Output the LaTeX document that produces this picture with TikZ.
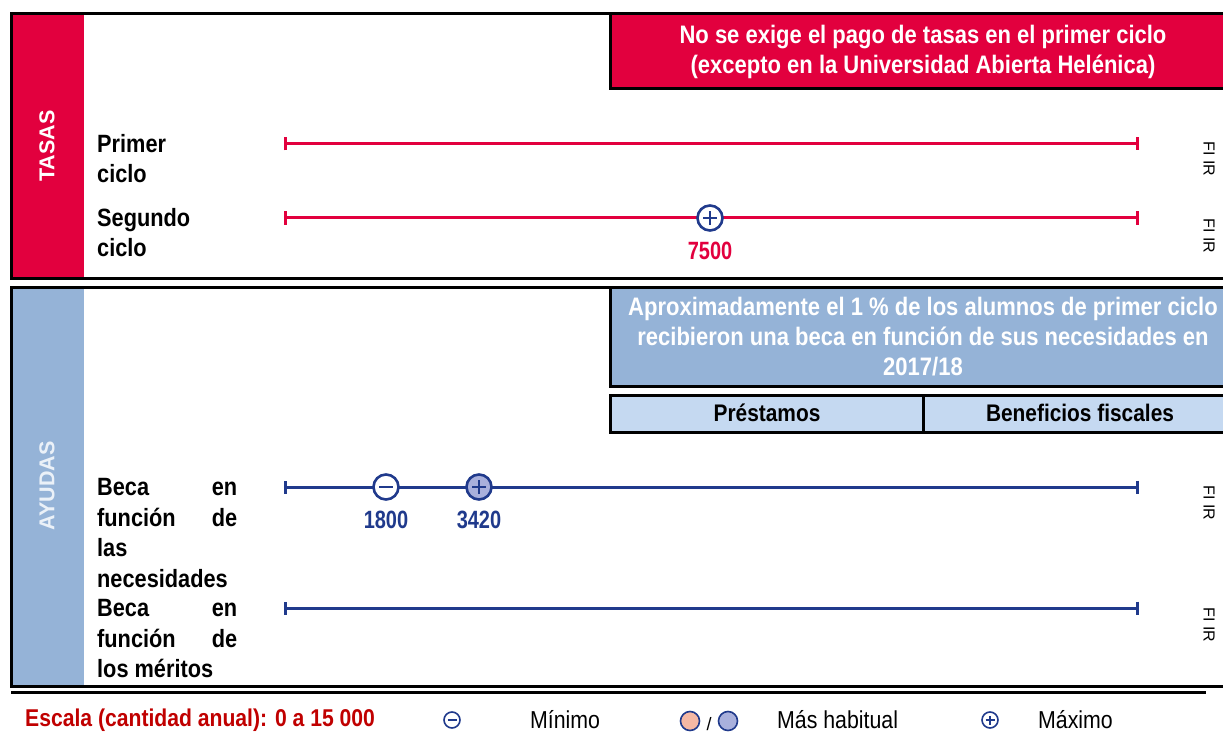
\documentclass[tikz,border=0pt]{standalone}
\usepackage{fontspec}
\setmainfont{Liberation Sans}
\newfontfamily\nar[FakeStretch=0.87]{Liberation Sans}
\newfontfamily\numf[FakeStretch=0.8]{Liberation Sans}
\usetikzlibrary{arrows.meta}
\definecolor{redc}{RGB}{226,0,62}
\definecolor{navy}{RGB}{32,58,140}
\definecolor{bandblue}{RGB}{149,179,215}
\definecolor{rowblue}{RGB}{197,217,241}
\definecolor{lav}{RGB}{169,176,220}
\definecolor{orng}{RGB}{245,184,164}
\definecolor{darkred}{RGB}{192,0,0}
\definecolor{paleblue}{RGB}{235,241,248}
\tikzset{
  box/.style={draw=black, line width=3pt},
  scaleline/.style={line width=3pt, {Bar[width=13pt,line width=3pt]}-{Bar[width=13pt,line width=3pt]}},
  rowlbl/.style={anchor=north west, inner sep=0pt, align=left, font=\nar\bfseries\fontsize{25}{30.6}\selectfont},
  banner/.style={align=center, inner sep=0pt, text=white, font=\nar\bfseries\fontsize{25.3}{30}\selectfont},
  sidelbl/.style={rotate=90, inner sep=0pt, font=\bfseries\fontsize{21.5}{22}\selectfont},
  fiir/.style={rotate=-90, inner sep=0pt, font=\fontsize{16}{16}\selectfont},
  numlbl/.style={inner sep=0pt, font=\numf\bfseries\fontsize{25}{25}\selectfont},
  marker/.style={circle, draw=navy, line width=2.6pt, fill=white, minimum size=25pt, inner sep=0pt},
  plussign/.style={path picture={
     \draw[navy, line width=2.6pt] ([xshift=-7pt]path picture bounding box.center) -- ([xshift=7pt]path picture bounding box.center);
     \draw[navy, line width=2.6pt] ([yshift=-7pt]path picture bounding box.center) -- ([yshift=7pt]path picture bounding box.center);}},
  minussign/.style={path picture={
     \draw[navy, line width=2.6pt] ([xshift=-7pt]path picture bounding box.center) -- ([xshift=7pt]path picture bounding box.center);}},
  legmark/.style={circle, draw=navy, line width=1.6pt, fill=white, minimum size=16pt, inner sep=0pt},
  legplus/.style={path picture={
     \draw[navy, line width=1.6pt] ([xshift=-4.5pt]path picture bounding box.center) -- ([xshift=4.5pt]path picture bounding box.center);
     \draw[navy, line width=1.6pt] ([yshift=-4.5pt]path picture bounding box.center) -- ([yshift=4.5pt]path picture bounding box.center);}},
  legminus/.style={path picture={
     \draw[navy, line width=1.6pt] ([xshift=-4.5pt]path picture bounding box.center) -- ([xshift=4.5pt]path picture bounding box.center);}},
  legcirc/.style={circle, draw=navy, line width=1.6pt, minimum size=19pt, inner sep=0pt},
  legtext/.style={anchor=west, inner sep=0pt, font=\nar\fontsize{24.5}{25}\selectfont}
}
\begin{document}
\begin{tikzpicture}[x=1pt,y=-1pt]
\useasboundingbox (0,0) rectangle (1223,738);
\clip (0,0) rectangle (1223,738);

% ===== TASAS block =====
\fill[redc] (11,14) rectangle (84,278);
\draw[box] (11,14) rectangle (1240,278);
\node[sidelbl, text=white] (tasas) at (47,146) {TASAS};
\draw[box, fill=redc] (610,14) rectangle (1240,89);
\node[banner] (redban) at (923,52) {No se exige el pago de tasas en el primer ciclo\\(excepto en la Universidad Abierta Helénica)};

\node[rowlbl] (primer) at (97,134) {Primer\\ciclo};
\node[rowlbl] (segundo) at (97,208) {Segundo\\ciclo};

\coordinate (r1a) at (284,144);
\coordinate (r1b) at (1139,144);
\coordinate (r2a) at (284,218);
\coordinate (r2b) at (1139,218);
\draw[scaleline, redc] (r1a) -- (r1b);
\draw[scaleline, redc] (r2a) -- (r2b);
\node[marker, plussign] (m7500) at (710,218) {};
\node[numlbl, text=redc] (l7500) at (710,251) {7500};

\node[fiir] (f1) at (1209,159) {FI IR};
\node[fiir] (f2) at (1209,236) {FI IR};

% ===== AYUDAS block =====
\fill[bandblue] (11,287) rectangle (84,686);
\draw[box] (11,287) rectangle (1240,686);
\node[sidelbl, text=paleblue] (ayudas) at (47,486) {AYUDAS};
\draw[box, fill=bandblue] (610,287) rectangle (1240,386);
\node[banner] (blueban) at (923,337) {Aproximadamente el 1 \% de los alumnos de primer ciclo\\recibieron una beca en función de sus necesidades en\\2017/18};
\draw[box, fill=rowblue] (610,395) rectangle (923,432);
\draw[box, fill=rowblue] (923,395) rectangle (1240,432);
\node[inner sep=0pt, font=\nar\bfseries\fontsize{24}{24}\selectfont] (prest) at (767,413) {Préstamos};
\node[inner sep=0pt, font=\nar\bfseries\fontsize{24}{24}\selectfont] (benef) at (1080,413) {Beneficios fiscales};

\node[rowlbl] (becan) at (97,478) {\makebox[140pt][s]{Beca en}\\\makebox[140pt][s]{función de}\\las\\necesidades};
\node[rowlbl] (becam) at (97,599) {\makebox[140pt][s]{Beca en}\\\makebox[140pt][s]{función de}\\los méritos};

\coordinate (b1a) at (284,487);
\coordinate (b1b) at (1139,487);
\coordinate (b2a) at (284,608);
\coordinate (b2b) at (1139,608);
\draw[scaleline, navy] (b1a) -- (b1b);
\draw[scaleline, navy] (b2a) -- (b2b);
\node[marker, minussign] (m1800) at (386,487) {};
\node[marker, plussign, fill=lav] (m3420) at (479,487) {};
\node[numlbl, text=navy] (l1800) at (386,520) {1800};
\node[numlbl, text=navy] (l3420) at (479,520) {3420};

\node[fiir] (f3) at (1209,503) {FI IR};
\node[fiir] (f4) at (1209,625) {FI IR};

% ===== bottom rule and legend =====
\coordinate (ruleA) at (11,692);
\coordinate (ruleB) at (1206,692);
\draw[line width=3pt] (ruleA) -- (ruleB);

\node[anchor=west, inner sep=0pt, text=darkred, font=\nar\bfseries\fontsize{24.3}{25}\selectfont] (escala) at (25,720) {Escala (cantidad anual): 0 a 15 000};
\node[legmark, legminus] (lgmin) at (452,720) {};
\node[legtext] (tmin) at (530,720) {Mínimo};
\node[legcirc, fill=orng] (lgo) at (690,721) {};
\node[inner sep=0pt, font=\fontsize{18}{18}\selectfont] (slash) at (709,724) {/};
\node[legcirc, fill=lav] (lgb) at (728,721) {};
\node[legtext] (thab) at (777,720) {Más habitual};
\node[legmark, legplus] (lgmax) at (990,720) {};
\node[legtext] (tmax) at (1038,720) {Máximo};
\end{tikzpicture}
\end{document}
